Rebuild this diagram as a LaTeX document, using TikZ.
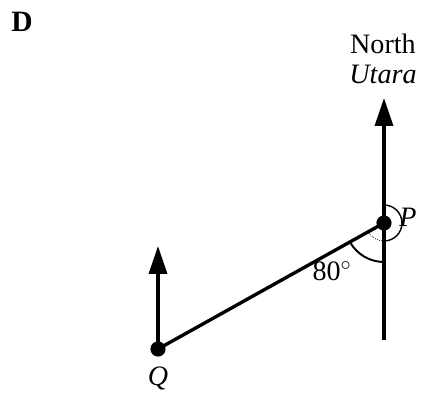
\documentclass[tikz,border=0pt]{standalone}
\usepackage{fontspec}
\setmainfont{Liberation Serif}
\usetikzlibrary{arrows.meta}

\begin{document}
\begin{tikzpicture}[>={Triangle[length=0.7cm,width=0.45cm]}, line width=2.4pt,
  every node/.style={font=\fontsize{20}{24}\selectfont},
  dot/.style={circle, fill, inner sep=0pt, minimum size=0.38cm}]
\useasboundingbox (0,0) rectangle (10.55,9.875);

\node[font=\fontsize{21}{24}\selectfont\bfseries] (letter) at (0.55,9.325) {D};
\node (north) at (9.575,8.775) {North};
\node (utara) at (9.575,8.025) {\itshape Utara};

\node[dot] (P) at (9.6,4.3) {};
\node[dot] (Q) at (3.95,1.15) {};
\coordinate (Ptip) at (9.6,7.425);
\coordinate (Pend) at (9.6,1.375);
\coordinate (Qtip) at (3.95,3.725);

\node (plabel) at (10.2,4.45) {\itshape P};
\node (qlabel) at (3.95,0.425) {\itshape Q};
\node (angle) at (8.3,3.1) {80$^\circ$};

\draw[->] (P.center) -- (Ptip);
\draw (P.center) -- (Pend);
\draw[->] (Q.center) -- (Qtip);
\draw (Q.center) -- (P.center);

% angles at P
\draw[line width=1.4pt] (P.center) ++(-90:0.975) arc[start angle=-90, end angle=-150.86, radius=0.975];
\draw[line width=1pt] (P.center) ++(90:0.45) arc[start angle=90, end angle=-90, radius=0.45];
\draw[line width=0.5pt, densely dotted] (P.center) ++(-90:0.45) arc[start angle=-90, end angle=-150.86, radius=0.45];
\end{tikzpicture}
\end{document}
